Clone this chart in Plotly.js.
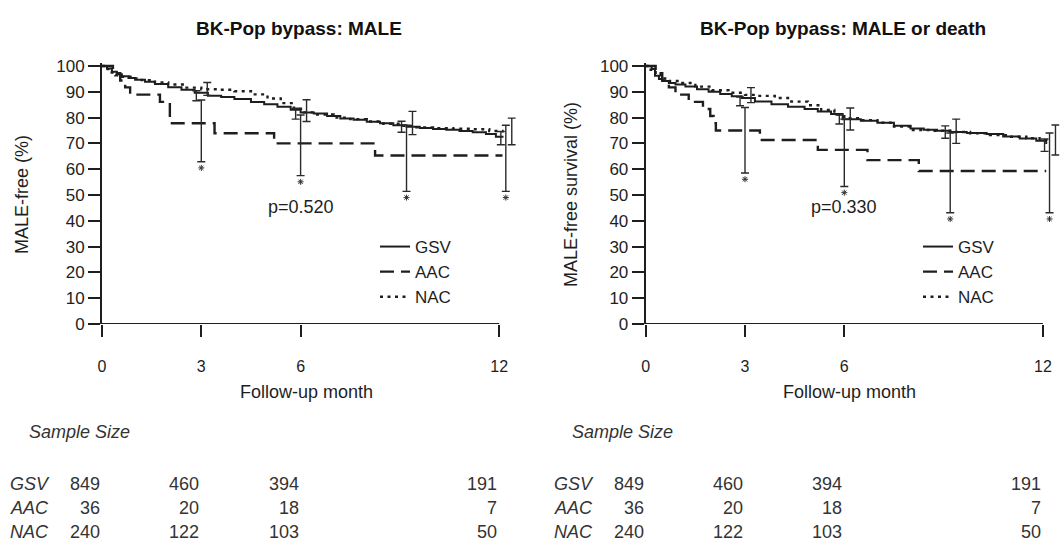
<!DOCTYPE html>
<html>
<head>
<meta charset="utf-8">
<script src="https://cdn.plot.ly/plotly-3.0.1.min.js"></script>
<style>html,body{margin:0;padding:0;background:#fff;}#chart{width:1061px;height:548px;}</style>
</head>
<body>
<div id="chart"></div>
<script>
// ---------------- DATA ----------------
const groups = ["GSV", "AAC", "NAC"];
const chartTitles = ["BK-Pop bypass: MALE", "BK-Pop bypass: MALE or death"];
const yTitles = ["MALE-free (%)", "MALE-free survival (%)"];
const xTitle = "Follow-up month";
const pValues = ["p=0.520", "p=0.330"];
const xTicks = [0, 3, 6, 12];
const yTicks = [0, 10, 20, 30, 40, 50, 60, 70, 80, 90, 100];

// Left: MALE-free
const leftGsvT = [0, 0.15, 0.3, 0.45, 0.6, 0.8, 1.0, 1.3, 1.6, 2.0, 2.4, 2.8, 3.2, 3.6, 4.0, 4.5, 4.9, 5.3, 5.7, 6.0, 6.4, 6.8, 7.2, 7.6, 8.0, 8.4, 8.8, 9.2, 9.6, 10.0, 10.4, 10.8, 11.2, 11.6, 11.9, 12.1];
const leftGsvS = [100, 99, 97.8, 96.8, 96.0, 95.3, 94.7, 93.9, 93.0, 91.8, 90.8, 89.6, 88.5, 88.0, 87.2, 86.0, 85.2, 84.2, 83.0, 82.0, 81.6, 80.6, 79.6, 79.2, 78.4, 77.8, 77.0, 76.4, 76.0, 75.6, 75.3, 74.8, 74.3, 73.6, 72.6, 72.2];
const leftAacT = [0, 0.33, 0.55, 0.7, 0.85, 1.75, 2.05, 3.4, 5.2, 8.25, 12.1];
const leftAacS = [100, 97.2, 94.4, 91.7, 88.9, 86.1, 77.8, 73.9, 70.0, 65.3, 65.3];
const leftNacT = [0, 0.1, 0.25, 0.4, 0.6, 0.9, 1.2, 1.6, 2.0, 2.5, 3.0, 3.5, 4.0, 4.5, 5.0, 5.4, 5.8, 6.1, 6.5, 7.0, 7.5, 8.0, 8.5, 9.0, 9.5, 10.0, 10.6, 11.2, 11.7, 12.1];
const leftNacS = [100, 98.8, 97.5, 96.4, 95.8, 95.2, 94.5, 93.6, 92.8, 91.6, 91.0, 90.8, 90.2, 89.0, 87.4, 85.6, 83.4, 82.0, 81.2, 80.0, 79.4, 78.5, 77.6, 76.8, 76.2, 75.9, 75.7, 75.5, 74.8, 74.2];

// Right: MALE-free survival
const rightGsvT = [0, 0.18, 0.28, 0.4, 0.5, 0.7, 0.9, 1.2, 1.55, 1.9, 2.25, 2.6, 2.9, 3.3, 3.8, 4.3, 4.8, 5.2, 5.6, 5.95, 6.5, 7.0, 7.5, 8.0, 8.4, 8.8, 9.2, 9.7, 10.3, 10.8, 11.3, 11.8, 12.1];
const rightGsvS = [100, 98.8, 96.2, 95.0, 94.2, 93.4, 92.8, 92.0, 91.0, 90.0, 89.1, 88.3, 87.6, 86.2, 85.2, 84.2, 83.3, 82.4, 81.4, 79.4, 78.8, 78.0, 76.8, 75.8, 75.3, 74.9, 74.4, 74.0, 73.6, 72.7, 71.9, 71.0, 69.8];
const rightAacT = [0, 0.3, 0.5, 0.7, 0.9, 1.3, 1.73, 1.95, 2.05, 2.12, 3.45, 5.2, 6.7, 8.25, 12.1];
const rightAacS = [100, 97.2, 94.4, 91.7, 88.9, 86.1, 83.3, 80.6, 77.8, 75.0, 71.3, 67.5, 63.5, 59.3, 59.3];
const rightNacT = [0, 0.15, 0.3, 0.45, 0.7, 1.0, 1.5, 2.0, 2.5, 3.0, 3.4, 3.9, 4.4, 4.9, 5.3, 5.7, 6.0, 6.5, 7.0, 7.5, 8.0, 8.6, 9.2, 9.8, 10.4, 11.0, 11.5, 11.9, 12.1];
const rightNacS = [100, 98.5, 96.8, 95.2, 94.2, 93.4, 92.0, 90.6, 89.6, 88.8, 88.4, 87.6, 86.2, 84.8, 83.0, 81.2, 79.8, 79.0, 78.0, 76.5, 75.2, 74.9, 74.4, 73.9, 73.2, 72.6, 72.0, 71.2, 70.5];

// Confidence intervals at follow-up points
const ciTimes = [3, 6, 9.2, 12.2];
const leftGsvEst = [88.5, 81.8, 76.4, 72.4], leftGsvLo = [86.5, 79.4, 74.3, 69.5], leftGsvHi = [90.4, 83.6, 78.6, 74.6];
const leftAacEst = [77.8, 70.0, 65.3, 65.3], leftAacLo = [62.9, 57.5, 51.4, 51.4], leftAacHi = [86.8, 81.0, 77.0, 77.0];
const leftNacEst = [90.8, 82.0, 76.6, 74.2], leftNacLo = [88.6, 78.5, 73.4, 69.5], leftNacHi = [93.6, 86.9, 82.4, 79.8];
const rightGsvEst = [86.4, 79.4, 74.5, 69.8], rightGsvLo = [84.6, 77.5, 72.0, 66.9], rightGsvHi = [88.0, 81.0, 76.8, 71.7];
const rightAacEst = [74.5, 67.5, 59.3, 59.3], rightAacLo = [58.5, 53.3, 43.1, 43.1], rightAacHi = [83.9, 79.4, 74.0, 74.0];
const rightNacEst = [88.6, 79.6, 74.4, 70.5], rightNacLo = [85.8, 75.2, 70.0, 65.5], rightNacHi = [91.6, 83.7, 79.4, 77.1];

// Sample size table
const sampleTimes = [0, 3, 6, 12];
const gsvN = [849, 460, 394, 191];
const aacN = [36, 20, 18, 7];
const nacN = [240, 122, 103, 50];

// ---------------- STYLE ----------------
const FONT = "Liberation Sans, Arial, Helvetica, sans-serif";
const INK = "#1e1e1e";
const lineStyles = {
  GSV: {color: INK, width: 2, dash: "solid"},
  AAC: {color: INK, width: 2.4, dash: "14px,7px"},
  NAC: {color: INK, width: 2.4, dash: "3px,4.5px"}
};
const ciOffset = {GSV: -0.15, AAC: 0, NAC: 0.18};
const starGap = 2.4; // gap (in % units) between the AAC lower cap and its star

const charts = [
  {xa: "x", ya: "y", legend: "legend",
   curves: {GSV: [leftGsvT, leftGsvS], AAC: [leftAacT, leftAacS], NAC: [leftNacT, leftNacS]},
   ci: {GSV: [leftGsvEst, leftGsvLo, leftGsvHi], AAC: [leftAacEst, leftAacLo, leftAacHi], NAC: [leftNacEst, leftNacLo, leftNacHi]}},
  {xa: "x2", ya: "y2", legend: "legend2",
   curves: {GSV: [rightGsvT, rightGsvS], AAC: [rightAacT, rightAacS], NAC: [rightNacT, rightNacS]},
   ci: {GSV: [rightGsvEst, rightGsvLo, rightGsvHi], AAC: [rightAacEst, rightAacLo, rightAacHi], NAC: [rightNacEst, rightNacLo, rightNacHi]}}
];

const traces = [];
charts.forEach(c => {
  groups.forEach(g => {
    const [t, s] = c.curves[g];
    traces.push({
      type: "scatter", mode: "lines", name: g, x: t, y: s,
      xaxis: c.xa, yaxis: c.ya, legend: c.legend,
      line: {color: lineStyles[g].color, width: lineStyles[g].width, dash: lineStyles[g].dash, shape: "hv"},
      hoverinfo: "skip"
    });
  });
  groups.forEach(g => {
    const [est, lo, hi] = c.ci[g];
    traces.push({
      type: "scatter", mode: "markers", showlegend: false,
      x: ciTimes.map(t => t + ciOffset[g]), y: est,
      xaxis: c.xa, yaxis: c.ya, cliponaxis: false,
      marker: {size: 1, color: "rgba(0,0,0,0)"},
      error_y: {type: "data", symmetric: false,
        array: hi.map((h, i) => h - est[i]), arrayminus: lo.map((l, i) => est[i] - l),
        color: "#2a2a2a", thickness: 1.4, width: 4},
      hoverinfo: "skip"
    });
  });
  // significance stars just below the AAC lower CI caps
  const aLo = c.ci.AAC[1];
  traces.push({
    type: "scatter", mode: "markers", showlegend: false,
    x: ciTimes.map(t => t + ciOffset.AAC), y: aLo.map(v => v - starGap),
    marker: {symbol: "asterisk-open", size: 5, color: "#333", line: {color: "#333", width: 1}},
    xaxis: c.xa, yaxis: c.ya, cliponaxis: false, hoverinfo: "skip"
  });
});

// ---------------- LAYOUT ----------------
const W = 1061, H = 548;
const px = v => v / W, py = v => 1 - v / H;

function xAxis(domain, anchor) {
  return {domain: domain, anchor: anchor, range: [0, 12.5], tickvals: xTicks, ticktext: xTicks.map(String),
    ticks: "outside", ticklen: 12, tickwidth: 2, tickcolor: INK, showgrid: false, zeroline: false, showline: false,
    tickfont: {family: FONT, size: 16, color: INK}, ticklabelstandoff: 16, fixedrange: true};
}
function yAxis(anchor) {
  return {domain: [py(324), py(63.4)], anchor: anchor, range: [0, 101], tickvals: yTicks,
    ticks: "outside", ticklen: 12, tickwidth: 2, tickcolor: INK, showgrid: false, zeroline: false,
    showline: true, linewidth: 2, linecolor: INK,
    tickfont: {family: FONT, size: 17, color: INK}, fixedrange: true};
}

const annotations = [];
const centers = [{title: 299, plot: 306, ylab: 22, rowLabel: 8, sample: 27},
                 {title: 843, plot: 849, ylab: 571, rowLabel: 552, sample: 570}];
charts.forEach((c, i) => {
  const k = centers[i];
  annotations.push({xref: "paper", yref: "paper", x: px(k.title), y: py(28), text: "<b>" + chartTitles[i] + "</b>",
    showarrow: false, xanchor: "center", yanchor: "middle", font: {family: FONT, size: 19, color: "#111"}});
  annotations.push({xref: "paper", yref: "paper", x: px(k.ylab), y: py(195), text: yTitles[i], textangle: -90,
    showarrow: false, xanchor: "center", yanchor: "middle", font: {family: FONT, size: 18, color: INK}});
  annotations.push({xref: "paper", yref: "paper", x: px(k.plot), y: py(392), text: xTitle,
    showarrow: false, xanchor: "center", yanchor: "middle", font: {family: FONT, size: 18, color: INK}});
  annotations.push({xref: c.xa, yref: c.ya, x: 6, y: 45.5, text: pValues[i],
    showarrow: false, xanchor: "center", yanchor: "middle", font: {family: FONT, size: 18, color: INK}});
  annotations.push({xref: "paper", yref: "paper", x: px(k.sample), y: py(432), text: "<i>Sample Size</i>",
    showarrow: false, xanchor: "left", yanchor: "middle", font: {family: FONT, size: 18, color: "#333"}});
  const rows = [gsvN, aacN, nacN];
  const rowY = [484, 508, 532];
  rows.forEach((vals, r) => {
    annotations.push({xref: "paper", yref: "paper", x: px(k.rowLabel), y: py(rowY[r]), text: "<i>" + groups[r] + "</i>",
      showarrow: false, xanchor: "left", yanchor: "middle", font: {family: FONT, size: 18, color: "#333"}});
    vals.forEach((v, j) => {
      annotations.push({xref: c.xa, yref: "paper", x: sampleTimes[j], y: py(rowY[r]), text: String(v),
        showarrow: false, xanchor: "right", yanchor: "middle", font: {family: FONT, size: 18, color: "#333"}});
    });
  });
});

const shapes = charts.map(c => ({type: "line", xref: c.xa, yref: c.ya,
  x0: Math.min(...xTicks), x1: Math.max(...xTicks), y0: 0, y1: 0, line: {color: INK, width: 2}}));

const legendBase = {yanchor: "top", xanchor: "left", bgcolor: "rgba(0,0,0,0)", borderwidth: 0,
  font: {family: FONT, size: 17, color: INK}, tracegroupgap: 0, itemwidth: 30};

const layout = {
  width: W, height: H, margin: {l: 0, r: 0, t: 0, b: 0},
  paper_bgcolor: "#fff", plot_bgcolor: "#fff",
  font: {family: FONT, color: INK},
  showlegend: true,
  xaxis: xAxis([px(102), px(102 + 12.5 * 33.1)], "y"),
  yaxis: yAxis("x"),
  xaxis2: xAxis([px(645.7), px(645.7 + 12.5 * 33.1)], "y2"),
  yaxis2: yAxis("x2"),
  legend: Object.assign({x: px(375), y: py(229)}, legendBase),
  legend2: Object.assign({x: px(918), y: py(229)}, legendBase),
  annotations: annotations,
  shapes: shapes
};

Plotly.newPlot("chart", traces, layout, {displayModeBar: false, staticPlot: true});
</script>
</body>
</html>
